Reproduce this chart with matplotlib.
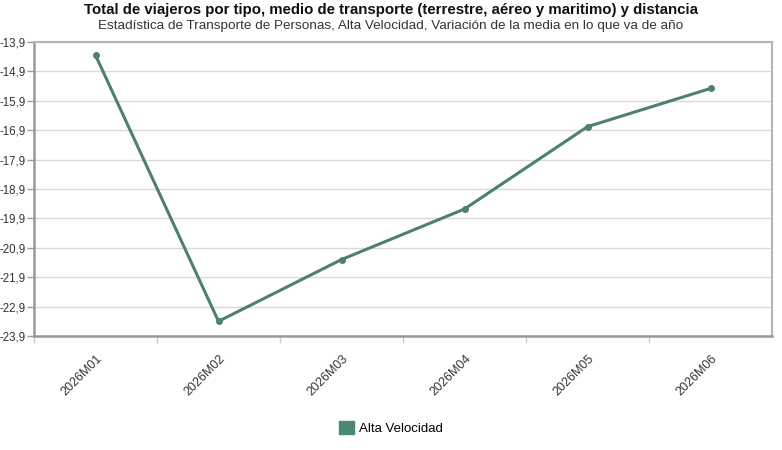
import matplotlib
matplotlib.use("Agg")
import matplotlib.pyplot as plt
from matplotlib.patches import Patch

plt.rcParams['font.family'] = ['Liberation Sans', 'DejaVu Sans']

# datos
periodos = ['2026M01', '2026M02', '2026M03', '2026M04', '2026M05', '2026M06']
alta_velocidad = [-14.35, -23.40, -21.30, -19.58, -16.78, -15.48]
y_ticks = [-23.9, -22.9, -21.9, -20.9, -19.9, -18.9, -17.9, -16.9, -15.9, -14.9, -13.9]

color_linea = '#4d8070'
color_leyenda = '#4a8873'

fig = plt.figure(figsize=(7.82, 4.5), dpi=100)
ax = fig.add_axes([34 / 782, 1 - 336 / 450, (772 - 34) / 782, (336 - 42) / 450])

x = list(range(len(periodos)))
ax.plot(x, alta_velocidad, color=color_linea, linewidth=2.2, marker='o',
        markersize=4, zorder=3)

ax.set_xlim(-0.5, len(periodos) - 0.5)
ax.set_ylim(y_ticks[0], y_ticks[-1])

ax.set_yticks(y_ticks)
ax.set_yticklabels([f"{v:.1f}".replace('.', ',') for v in y_ticks], fontsize=8.3, color='#333333')
ax.tick_params(axis='y', length=5, width=1, color='#999999', pad=1)
ax.grid(axis='y', color='#d9d9d9', linewidth=1)
ax.set_axisbelow(True)

ax.set_xticks(x)
ax.set_xticklabels(periodos, rotation=45, ha='right', va='top',
                   rotation_mode='anchor', fontsize=9, color='#333333')
ax.tick_params(axis='x', which='major', length=0, pad=12)
ax.set_xticks([i + 0.5 for i in x[:-1]] + [-0.5], minor=True)
ax.tick_params(axis='x', which='minor', length=5, width=1, color='#cccccc')

for lado in ['left', 'bottom']:
    ax.spines[lado].set_color('#999999')
    ax.spines[lado].set_linewidth(1.8)
for lado in ['top', 'right']:
    ax.spines[lado].set_color('#b5b5b5')
    ax.spines[lado].set_linewidth(1.5)

fig.text(0.5, 1 - 10 / 450, "Total de viajeros por tipo, medio de transporte (terrestre, aéreo y maritimo) y distancia",
         ha='center', va='center', fontsize=10.8, fontweight='bold', color='#111111')
fig.text(0.5, 1 - 26 / 450, "Estadística de Transporte de Personas, Alta Velocidad, Variación de la media en lo que va de año",
         ha='center', va='center', fontsize=9.7, color='#333333')

fig.legend(handles=[Patch(facecolor=color_leyenda, edgecolor=color_leyenda, label='Alta Velocidad')],
           loc='center', bbox_to_anchor=(0.5, 1 - 428 / 450), frameon=False,
           fontsize=9.5, handlelength=1.1, handleheight=1.1, handletextpad=0.4)

fig.savefig('out.png', dpi=100)
